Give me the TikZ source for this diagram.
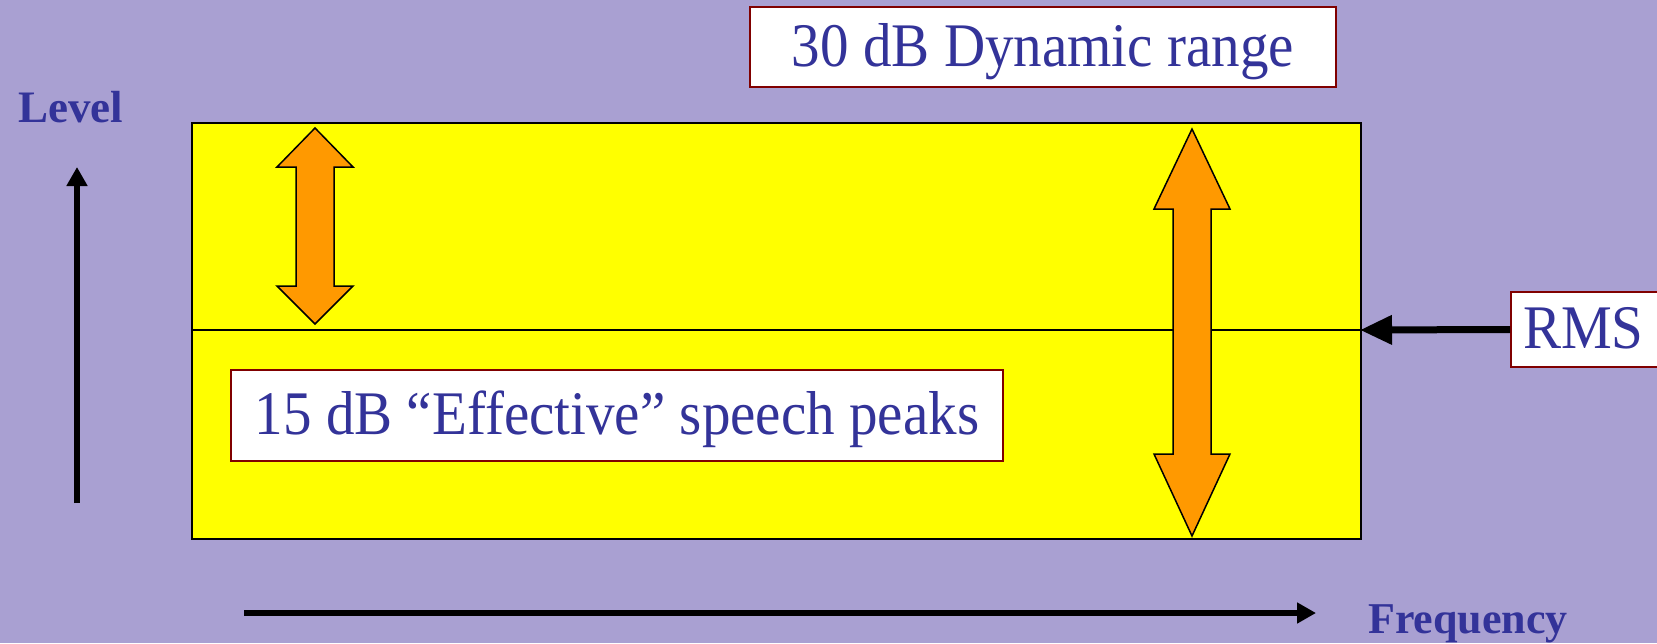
\documentclass[tikz,border=0pt]{standalone}
\usepackage{fontspec}
\setmainfont{Liberation Serif}
\newfontfamily\boxfont[FakeStretch=0.92]{Liberation Serif}
\usetikzlibrary{arrows.meta}
\definecolor{bgpurple}{RGB}{169,160,210}
\definecolor{bandyellow}{RGB}{255,255,0}
\definecolor{arroworange}{RGB}{255,153,0}
\definecolor{textblue}{RGB}{51,51,153}
\definecolor{boxred}{RGB}{128,0,0}
\tikzset{
  labelbox/.style={draw=boxred, line width=2pt, fill=white, text=textblue,
    font=\boxfont\fontsize{62}{70}\selectfont, inner sep=0pt,
    text height=52pt, text depth=14pt},
  axislabel/.style={text=textblue, font=\bfseries\fontsize{45}{50}\selectfont, inner sep=0pt},
  axisarrow/.style={line width=6pt, -{Triangle[length=19pt,width=20pt]}},
  dblarrow/.style={draw=black, line width=1.5pt, fill=arroworange, line join=miter},
}
\begin{document}
\begin{tikzpicture}[x=1pt, y=-1pt]
  \useasboundingbox[fill=bgpurple] (0,0) rectangle (1657,643);

  % yellow band with its RMS line
  \node[draw=black, line width=2pt, fill=bandyellow, minimum width=1169pt,
        minimum height=416.5pt, inner sep=0pt, anchor=north west] (band) at (191,121.5) {};
  \coordinate (rmsleft) at (191,330);
  \coordinate (rmsright) at (1360,330);
  \draw[line width=1.5pt] (rmsleft) -- (rmsright);

  % small double arrow (15 dB)
  \draw[dblarrow] (315,128) -- (353,167) -- (334,167) -- (334,286) -- (353,286)
    -- (315,324) -- (277,286) -- (296,286) -- (296,167) -- (277,167) -- cycle;

  % large double arrow (30 dB)
  \draw[dblarrow] (1192,129) -- (1230,209) -- (1211,209) -- (1211,454) -- (1230,454)
    -- (1192,536) -- (1154,454) -- (1173,454) -- (1173,209) -- (1154,209) -- cycle;

  % text boxes
  \node[labelbox, minimum width=586pt, minimum height=80pt] (dyn) at (1043,47)
    {30 dB Dynamic range};
  \node[labelbox, minimum width=772pt, minimum height=91pt] (peaks) at (617,415.5)
    {15 dB “Effective” speech peaks};
  \node[labelbox, anchor=west, minimum height=75pt, text width=150pt, align=left,
        inner xsep=12pt] (rms) at (1510,329.5) {RMS};

  \draw[line width=7pt, -{Triangle[length=32pt,width=28pt]}] (rms.west) -- (rmsright);

  % axes
  \node[axislabel, anchor=base west] (level) at (18,122) {Level};
  \coordinate (lvlfrom) at (77,503);
  \coordinate (lvlto) at (77,167);
  \draw[axisarrow] (lvlfrom) -- (lvlto);

  \node[axislabel, anchor=base west, font=\bfseries\fontsize{44}{50}\selectfont] (freq) at (1368,633) {Frequency};
  \coordinate (frqfrom) at (244,613);
  \coordinate (frqto) at (1316,613);
  \draw[axisarrow] (frqfrom) -- (frqto);
\end{tikzpicture}
\end{document}
